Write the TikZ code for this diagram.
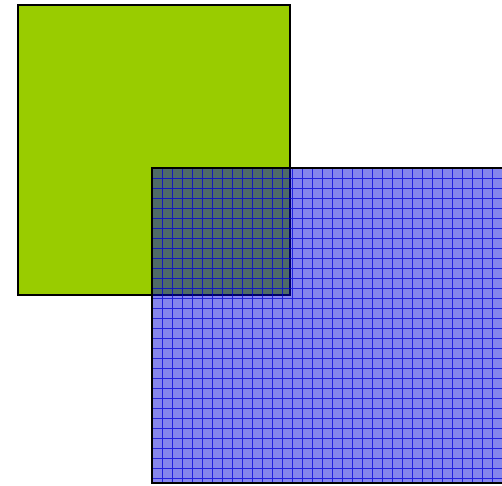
\documentclass[tikz,border=0pt]{standalone}
\usepackage{xcolor}
\usepackage{tikz}

\begin{document}
\begin{tikzpicture}[
  x=0.3pt, y=-0.3pt,
  edge/.style={draw=black, line width=0.6pt},
  solidsq/.style={edge, fill=lime!80!black},
  tintsq/.style={fill=blue!85!black, fill opacity=0.48},
  gridln/.style={draw=blue!85!black, draw opacity=0.75, line width=0.25pt, step=3pt},
]
\useasboundingbox (0,0) rectangle (502,485);

%─── Solid square (back) ─────────────────────────────────────────────────────
\draw[solidsq] (18,5) rectangle (290,295);

%─── Gridded square (front, see-through) ─────────────────────────────────────
\fill[tintsq] (152,168) rectangle (512,483);
\begin{scope}[shift={(152,168)}]
  \draw[gridln] (0,0) grid (360,315);
\end{scope}
\draw[edge] (152,168) rectangle (512,483);

\end{tikzpicture}
\end{document}
